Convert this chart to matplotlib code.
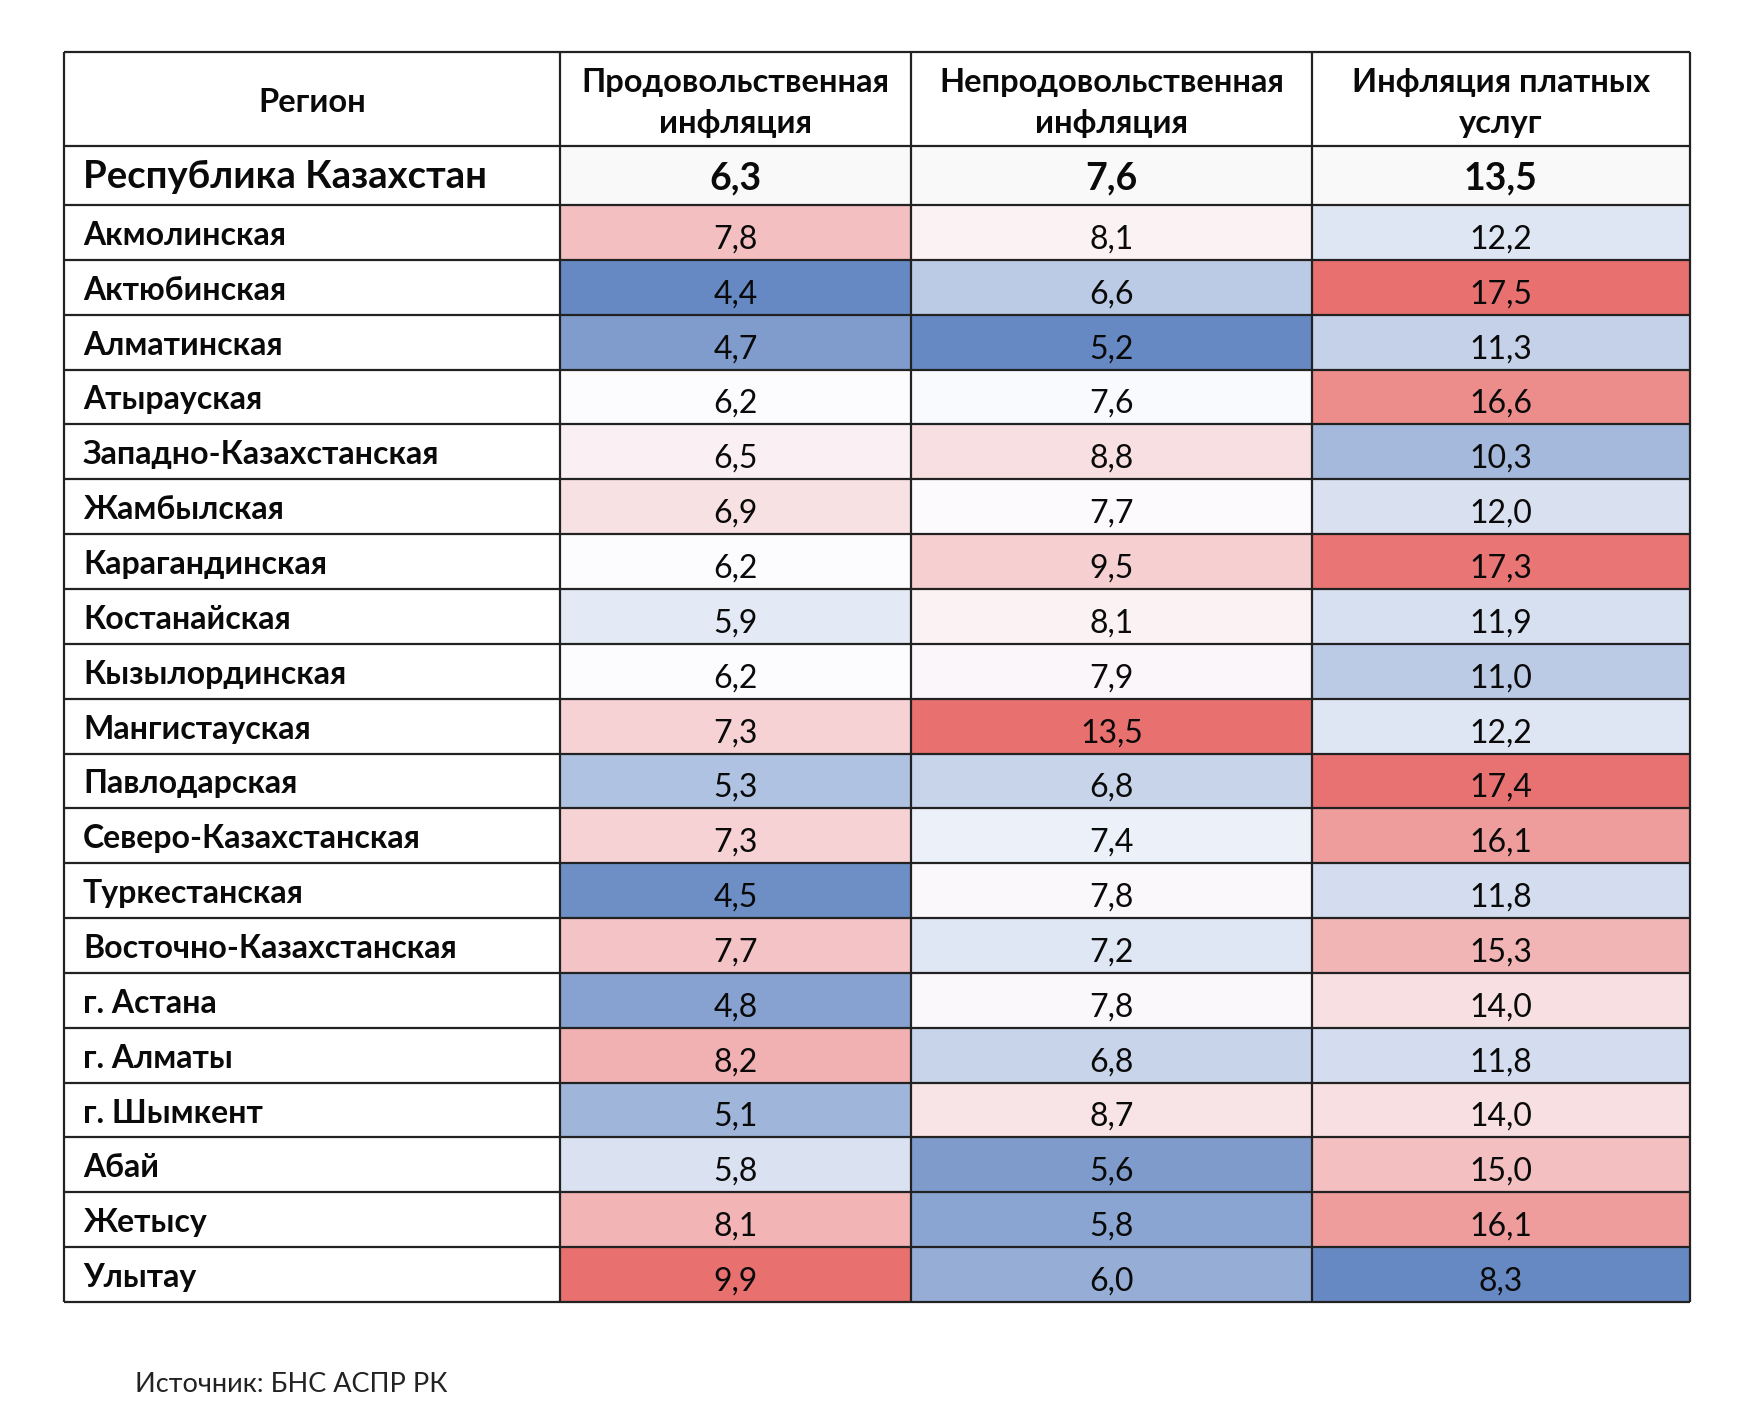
import numpy as np
import matplotlib
matplotlib.use("Agg")
import matplotlib.pyplot as plt
from matplotlib.colors import LinearSegmentedColormap, TwoSlopeNorm

plt.rcParams['font.family'] = ['Lato', 'DejaVu Sans']

# Data
headers = ["Регион", "Продовольственная\nинфляция", "Непродовольственная\nинфляция",
           "Инфляция платных\nуслуг"]
total_name = "Республика Казахстан"
total_vals = [6.3, 7.6, 13.5]
regions = ["Акмолинская", "Актюбинская", "Алматинская", "Атырауская",
           "Западно-Казахстанская", "Жамбылская", "Карагандинская", "Костанайская",
           "Кызылординская", "Мангистауская", "Павлодарская", "Северо-Казахстанская",
           "Туркестанская", "Восточно-Казахстанская", "г. Астана", "г. Алматы",
           "г. Шымкент", "Абай", "Жетысу", "Улытау"]
food = [7.8, 4.4, 4.7, 6.2, 6.5, 6.9, 6.2, 5.9, 6.2, 7.3,
        5.3, 7.3, 4.5, 7.7, 4.8, 8.2, 5.1, 5.8, 8.1, 9.9]
nonfood = [8.1, 6.6, 5.2, 7.6, 8.8, 7.7, 9.5, 8.1, 7.9, 13.5,
           6.8, 7.4, 7.8, 7.2, 7.8, 6.8, 8.7, 5.6, 5.8, 6.0]
services = [12.2, 17.5, 11.3, 16.6, 10.3, 12.0, 17.3, 11.9, 11.0, 12.2,
            17.4, 16.1, 11.8, 15.3, 14.0, 11.8, 14.0, 15.0, 16.1, 8.3]
source = "Источник: БНС АСПР РК"

# Layout (pixels)
W, H = 1740, 1422
col_edges = [64, 560, 911, 1312, 1690]
top, head_bot, total_bot, bottom = 52, 146, 205, 1302
n = len(regions)
row_edges = np.linspace(total_bot, bottom, n + 1)

cmap = LinearSegmentedColormap.from_list("excel3", ["#6689C3", "#FCFCFF", "#E8706F"])

fig = plt.figure(figsize=(W / 100, H / 100), dpi=100)
ax = fig.add_axes([0, 0, 1, 1])
ax.set_xlim(0, W)
ax.set_ylim(H, 0)
ax.axis("off")

fmt = lambda v: f"{v:.1f}".replace(".", ",")

# colored cells, one colour scale per column
for j, vals in enumerate([food, nonfood, services]):
    v = np.array(vals)
    norm = TwoSlopeNorm(vmin=v.min(), vcenter=np.median(v), vmax=v.max())
    ax.pcolormesh([col_edges[j + 1], col_edges[j + 2]], row_edges, v.reshape(-1, 1),
                  cmap=cmap, norm=norm, shading="flat")
    xc = (col_edges[j + 1] + col_edges[j + 2]) / 2
    for i, val in enumerate(vals):
        yc = (row_edges[i] + row_edges[i + 1]) / 2 + 7
        ax.text(xc, yc, fmt(val), ha="center", va="center", fontsize=23, color="#0a0a0a")
    ax.add_patch(plt.Rectangle((col_edges[j + 1], head_bot), col_edges[j + 2] - col_edges[j + 1],
                               total_bot - head_bot, color="#f9f9f9", zorder=0))
    ax.text(xc, (head_bot + total_bot) / 2 + 3, fmt(total_vals[j]), ha="center", va="center",
            fontsize=27, fontweight="bold", color="#0a0a0a")

# region names
for i, name in enumerate(regions):
    yc = (row_edges[i] + row_edges[i + 1]) / 2 + 3
    ax.text(83, yc, name, ha="left", va="center", fontsize=23, fontweight="bold", color="#0a0a0a")
ax.text(83, (head_bot + total_bot) / 2 + 1, total_name, ha="left", va="center",
        fontsize=27.5, fontweight="bold", color="#0a0a0a")

# header
for j, h in enumerate(headers):
    xc = (col_edges[j] + col_edges[j + 1]) / 2
    ax.text(xc, (top + head_bot) / 2 + 4, h, ha="center", va="center", fontsize=23.5,
            fontweight="bold", color="#0a0a0a", linespacing=1.5)

# grid lines
hl = [top, head_bot, total_bot] + list(row_edges[1:])
ax.hlines(hl, col_edges[0], col_edges[-1], colors="#222222", linewidth=1.6, zorder=3)
ax.vlines(col_edges, top, bottom, colors="#222222", linewidth=1.6, zorder=3)

ax.text(135, 1385, source, ha="left", va="center", fontsize=19.5, color="#222222")

fig.savefig("out.png", dpi=100)
